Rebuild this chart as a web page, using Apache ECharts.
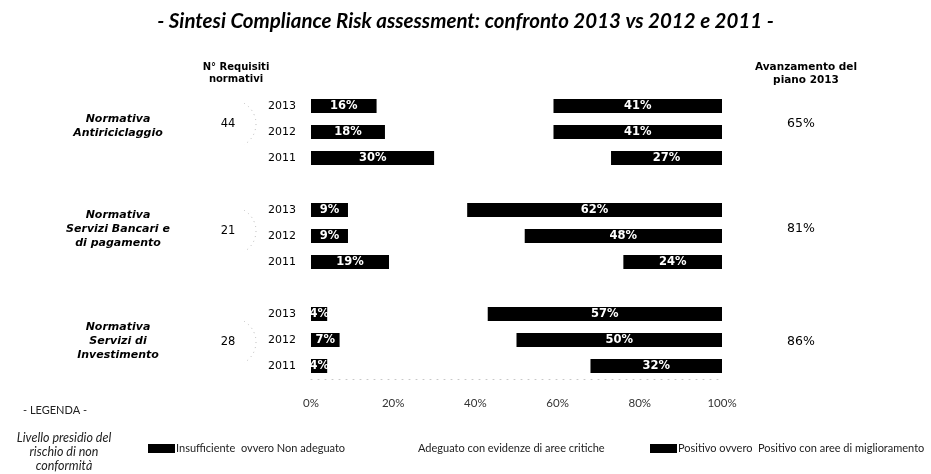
<!DOCTYPE html>
<html>
<head>
<meta charset="utf-8">
<script src="https://cdn.jsdelivr.net/npm/echarts@6/dist/echarts.min.js"></script>
<style>
  html, body { margin: 0; padding: 0; background: #fff; }
  #chart { width: 931px; height: 474px; }
</style>
</head>
<body>
<div id="chart"></div>
<script>
// Compliance risk levels per regulation area, by year (percent of requirements)
const years = ['2013', '2012', '2011'];
const groupNames = [
  'Normativa\nAntiriciclaggio',
  'Normativa\nServizi Bancari e\ndi pagamento',
  'Normativa\nServizi di\nInvestimento'
];
const requisiti = [44, 21, 28];
const avanzamento = ['65%', '81%', '86%'];

// one inner array per area, ordered 2013, 2012, 2011
const insufficiente = [[16, 18, 30], [9, 9, 19], [4, 7, 4]];
const adeguato      = [[43, 41, 43], [29, 43, 57], [39, 43, 64]];
const positivo      = [[41, 41, 27], [62, 48, 24], [57, 50, 32]];

const xTicks = [0, 20, 40, 60, 80, 100];

const legendItems = [
  { text: 'Insufficiente  ovvero Non adeguato', color: '#000' },
  { text: 'Adeguato con evidenze di aree critiche', color: '#fff' },
  { text: 'Positivo ovvero  Positivo con aree di miglioramento', color: '#000' }
];

// Rows: three years per area with an empty spacer row between areas
const categories = [];
const rowsIns = [], rowsAde = [], rowsPos = [];
groupNames.forEach((g, gi) => {
  years.forEach((y, yi) => {
    categories.push(gi + '|' + y);
    rowsIns.push(insufficiente[gi][yi]);
    rowsAde.push(adeguato[gi][yi]);
    rowsPos.push(positivo[gi][yi]);
  });
  if (gi < groupNames.length - 1) {
    categories.push(gi + '|');
    rowsIns.push(null); rowsAde.push(null); rowsPos.push(null);
  }
});

const FONT = 'DejaVu Sans';
const barLabel = {
  show: true,
  position: 'inside',
  formatter: p => p.value + '%',
  color: '#fff',
  fontFamily: FONT,
  fontWeight: 'bold',
  fontSize: 11.5
};

const chart = echarts.init(document.getElementById('chart'), null, { renderer: 'canvas' });

const groupLabelY = [126, 229, 341];
const countY = [124, 231, 342];
const progressY = [124, 229, 342];

const graphics = [];
groupNames.forEach((g, gi) => {
  graphics.push({
    type: 'text', x: 118, y: groupLabelY[gi],
    style: {
      text: g, fill: '#000', align: 'center', verticalAlign: 'middle',
      font: 'italic bold 11px "DejaVu Sans"', lineHeight: 14
    }
  });
  graphics.push({
    type: 'text', x: 228, y: countY[gi],
    style: {
      text: String(requisiti[gi]), fill: '#000', align: 'center', verticalAlign: 'middle',
      font: '11.5px "DejaVu Sans"'
    }
  });
  graphics.push({
    type: 'arc', silent: true,
    shape: { cx: 232, cy: countY[gi], r: 24, startAngle: -Math.PI / 3, endAngle: Math.PI / 3 },
    style: { stroke: '#b8b8b8', lineWidth: 1, lineDash: [1, 4], fill: null }
  });
  graphics.push({
    type: 'text', x: 801, y: progressY[gi],
    style: {
      text: avanzamento[gi], fill: '#000', align: 'center', verticalAlign: 'middle',
      font: '12.5px "DejaVu Sans"'
    }
  });
});

// Column headers
graphics.push({
  type: 'text', x: 236, y: 73,
  style: { text: 'N° Requisiti\nnormativi', fill: '#000', align: 'center', verticalAlign: 'middle',
    font: 'bold 10px "DejaVu Sans"', lineHeight: 12 }
});
graphics.push({
  type: 'text', x: 806, y: 74,
  style: { text: 'Avanzamento del\npiano 2013', fill: '#000', align: 'center', verticalAlign: 'middle',
    font: 'bold 10.5px "DejaVu Sans"', lineHeight: 13 }
});

// Legend block
graphics.push({
  type: 'text', x: 55, y: 410,
  style: { text: '- LEGENDA -', fill: '#222', align: 'center', verticalAlign: 'middle',
    font: '11px Lato' }
});
graphics.push({
  type: 'text', x: 64, y: 452,
  style: { text: 'Livello presidio del\nrischio di non\nconformità', fill: '#222', align: 'center',
    verticalAlign: 'middle', font: 'italic 12.5px Lato', lineHeight: 14 }
});
const legendX = [148, 390, 650];
legendItems.forEach((it, i) => {
  graphics.push({
    type: 'rect', shape: { x: legendX[i], y: 444, width: 27, height: 9 },
    style: { fill: it.color }
  });
  graphics.push({
    type: 'text', x: legendX[i] + 28, y: 448.5,
    style: { text: it.text, fill: '#222', align: 'left', verticalAlign: 'middle', font: '11px Lato' }
  });
});

chart.setOption({
  animation: false,
  backgroundColor: '#fff',
  title: {
    text: '- Sintesi Compliance Risk assessment: confronto 2013 vs 2012 e 2011 -',
    left: 'center',
    top: 6,
    textStyle: {
      fontFamily: 'Lato', fontStyle: 'italic', fontWeight: 'bold', fontSize: 20.5, color: '#000'
    }
  },
  grid: { left: 311, right: 209, top: 93, height: 286, containLabel: false },
  xAxis: {
    type: 'value',
    min: 0, max: 100, interval: 20,
    axisLine: { show: true, lineStyle: { color: '#c8c8c8', type: [1, 6], width: 1 } },
    axisTick: { show: false },
    splitLine: { show: false },
    axisLabel: {
      margin: 18,
      formatter: v => xTicks.indexOf(v) >= 0 ? v + '%' : '',
      fontFamily: 'Lato', fontSize: 11.5, color: '#333'
    }
  },
  yAxis: {
    type: 'category',
    inverse: true,
    data: categories,
    axisLine: { show: false },
    axisTick: { show: false },
    axisLabel: {
      margin: 15,
      formatter: v => v.split('|')[1],
      fontFamily: FONT, fontSize: 11, color: '#000'
    }
  },
  series: [
    {
      name: 'Insufficiente', type: 'bar', stack: 'tot', barWidth: 14,
      data: rowsIns, itemStyle: { color: '#000' }, label: barLabel
    },
    {
      name: 'Adeguato', type: 'bar', stack: 'tot', barWidth: 14,
      data: rowsAde, itemStyle: { color: '#fff' }, label: { show: false }
    },
    {
      name: 'Positivo', type: 'bar', stack: 'tot', barWidth: 14,
      data: rowsPos, itemStyle: { color: '#000' }, label: barLabel
    }
  ],
  graphic: graphics
});
</script>
</body>
</html>
